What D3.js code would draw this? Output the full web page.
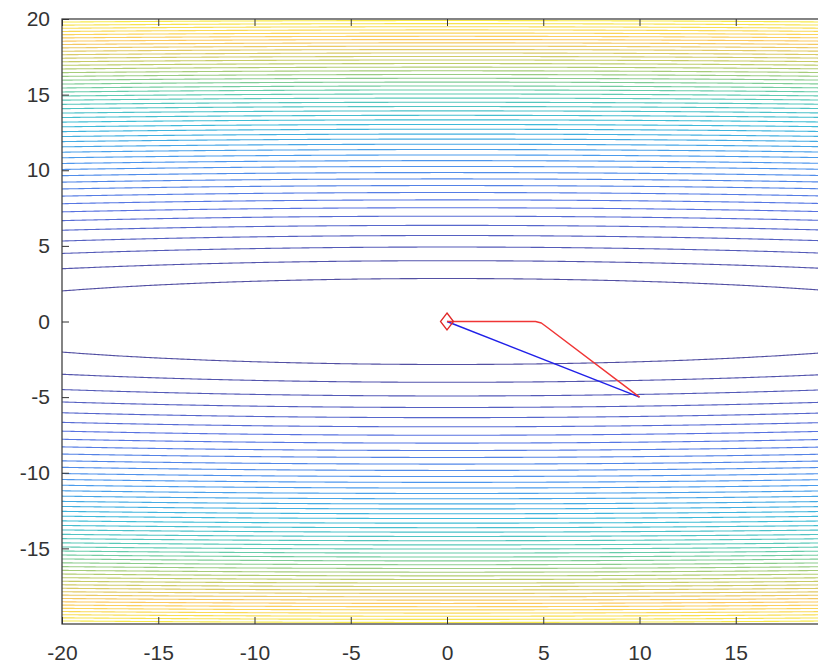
<!DOCTYPE html>
<html>
<head>
<meta charset="utf-8">
<script src="https://cdn.jsdelivr.net/npm/d3@7"></script>
<style>
  body { margin: 0; background: #fff; }
  svg { display: block; }
  text { font-family: "Liberation Sans", Arial, Helvetica, sans-serif; }
</style>
</head>
<body>
<svg id="chart" width="818" height="669"></svg>
<script>
// ---- data ----
const xDomain = [-20, 20];
const yDomain = [-20, 20];
const xTicks = [-20, -15, -10, -5, 0, 5, 10, 15];
const yTicks = [-15, -10, -5, 0, 5, 10, 15, 20];

// elongated quadratic bowl f(x, y) = a*x^2 + b*y^2
const bowlCoefX = 0.01;
const bowlCoefY = 1;
const zRange = [0, 404];
const contourLevels = [
  8.08, 16.16, 24.24, 32.32, 40.4, 48.48, 56.56, 64.64, 72.72, 80.8,
  88.88, 96.96, 105.04, 113.12, 121.2, 129.28, 137.36, 145.44, 153.52, 161.6,
  169.68, 177.76, 185.84, 193.92, 202, 210.08, 218.16, 226.24, 234.32, 242.4,
  250.48, 258.56, 266.64, 274.72, 282.8, 290.88, 298.96, 307.04, 315.12, 323.2,
  331.28, 339.36, 347.44, 355.52, 363.6, 371.68, 379.76, 387.84, 395.92
];

// optimizer trajectories (x, y)
const redPath = [[10, -5], [5.2, -0.38], [4.9, -0.1], [4.6, 0], [0, 0]];
const bluePath = [[10, -5], [0, 0]];
const optimum = [0, 0];

// parula colormap stops
const parulaStops = [0, 1/7, 2/7, 3/7, 4/7, 5/7, 6/7, 1];
const parulaColors = [
  "rgb(52,42,135)", "rgb(60,90,220)", "rgb(46,135,235)", "rgb(28,175,210)",
  "rgb(70,195,160)", "rgb(175,195,80)", "rgb(250,190,70)", "rgb(245,235,40)"
];

// ---- layout ----
const plot = { left: 62, top: 19, right: 832, bottom: 624 };
const svg = d3.select("#chart");

const x = d3.scaleLinear().domain(xDomain).range([plot.left, plot.right]);
const y = d3.scaleLinear().domain(yDomain).range([plot.bottom, plot.top]);
const color = d3.scaleLinear()
  .domain(parulaStops.map(t => zRange[0] + t * (zRange[1] - zRange[0])))
  .range(parulaColors)
  .interpolate(d3.interpolateRgb);

svg.append("defs").append("clipPath").attr("id", "plot-clip")
  .append("rect")
  .attr("x", plot.left).attr("y", plot.top)
  .attr("width", plot.right - plot.left).attr("height", plot.bottom - plot.top);

// ---- contour field ----
// grid extends a little past the axes so the polygon borders fall outside the clip
const step = 0.1;
const gx0 = -21, gy0 = -21;
const nx = 421, ny = 421;
const field = new Float64Array(nx * ny);
for (let j = 0; j < ny; j++) {
  const yy = gy0 + j * step;
  for (let i = 0; i < nx; i++) {
    const xx = gx0 + i * step;
    field[j * nx + i] = bowlCoefX * xx * xx + bowlCoefY * yy * yy;
  }
}

const contours = d3.contours().size([nx, ny]).thresholds(contourLevels)(field);

const gridToScreen = d3.geoTransform({
  point: function (gx, gy) {
    this.stream.point(x(gx0 + (gx - 0.5) * step), y(gy0 + (gy - 0.5) * step));
  }
});
const contourPath = d3.geoPath(gridToScreen);

svg.append("g")
  .attr("clip-path", "url(#plot-clip)")
  .selectAll("path")
  .data(contours)
  .join("path")
  .attr("d", contourPath)
  .attr("fill", "none")
  .attr("stroke", d => color(d.value))
  .attr("stroke-opacity", 0.85)
  .attr("stroke-width", 1.1);

// ---- trajectories ----
const line = d3.line().x(d => x(d[0])).y(d => y(d[1]));
const traj = svg.append("g").attr("clip-path", "url(#plot-clip)");

traj.append("path")
  .datum(bluePath)
  .attr("d", line)
  .attr("fill", "none")
  .attr("stroke", "#2020e8")
  .attr("stroke-width", 1.4);

traj.append("path")
  .datum(redPath)
  .attr("d", line)
  .attr("fill", "none")
  .attr("stroke", "#f03535")
  .attr("stroke-width", 1.5)
  .attr("stroke-linejoin", "round");

// diamond marker at the minimum
const mx = x(optimum[0]), my = y(optimum[1]);
traj.append("path")
  .attr("d", `M${mx},${my - 8.5}L${mx + 6.5},${my}L${mx},${my + 8.5}L${mx - 6.5},${my}Z`)
  .attr("fill", "none")
  .attr("stroke", "#e02828")
  .attr("stroke-width", 1.3);

// ---- axes ----
const axisColor = "#333";
const tickLen = 7;
const plainFormat = d => String(d);

function styleAxis(g) {
  g.select(".domain").remove();
  g.selectAll(".tick line").attr("stroke", axisColor);
  g.selectAll(".tick text")
    .attr("fill", "#333")
    .style("font-size", "21px")
    .style("font-family", '"Liberation Sans", Arial, Helvetica, sans-serif');
}

svg.append("g")
  .attr("transform", `translate(0,${plot.bottom})`)
  .call(d3.axisBottom(x).tickValues(xTicks).tickFormat(plainFormat)
    .tickSizeInner(-tickLen).tickSizeOuter(0).tickPadding(21))
  .call(styleAxis);

svg.append("g")
  .attr("transform", `translate(0,${plot.top})`)
  .call(d3.axisTop(x).tickValues(xTicks).tickFormat("").tickSizeInner(-tickLen).tickSizeOuter(0))
  .call(styleAxis);

svg.append("g")
  .attr("transform", `translate(${plot.left},0)`)
  .call(d3.axisLeft(y).tickValues(yTicks).tickFormat(plainFormat)
    .tickSizeInner(-tickLen).tickSizeOuter(0).tickPadding(12))
  .call(styleAxis);

svg.append("g")
  .attr("transform", `translate(${plot.right},0)`)
  .call(d3.axisRight(y).tickValues(yTicks).tickFormat("").tickSizeInner(-tickLen).tickSizeOuter(0))
  .call(styleAxis);

svg.append("rect")
  .attr("x", plot.left).attr("y", plot.top)
  .attr("width", plot.right - plot.left).attr("height", plot.bottom - plot.top)
  .attr("fill", "none")
  .attr("stroke", axisColor)
  .attr("stroke-width", 1.2);
</script>
</body>
</html>
